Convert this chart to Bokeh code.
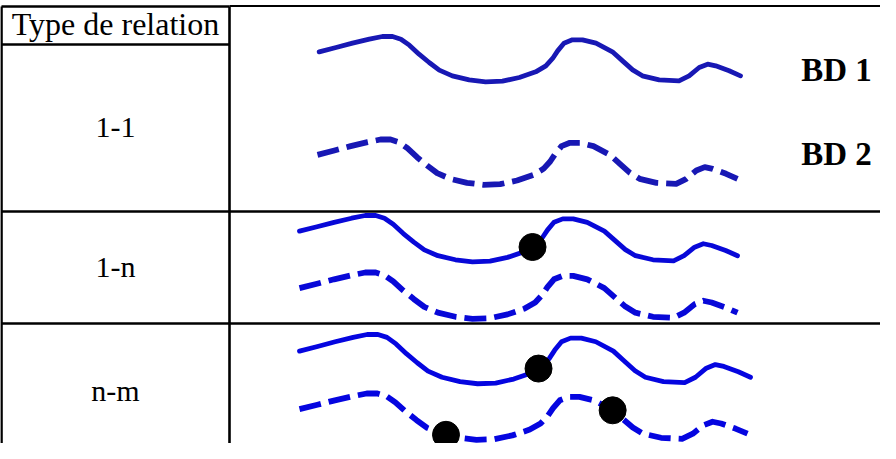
import numpy as np
from bokeh.plotting import figure
from bokeh.models import Range1d
from bokeh.embed import file_html
from bokeh.resources import INLINE
from bokeh.core.properties import value

# ---------------- data ----------------
header = "Type de relation"
relations = ["1-1", "1-n", "n-m"]
db_labels = ["BD 1", "BD 2"]

# shape of a river-like line: u along (0..1), v depth (0 = highest, 1 = lowest)
shape_u = [0.0, 0.040, 0.079, 0.119, 0.150, 0.174, 0.194, 0.214, 0.237, 0.261,
           0.285, 0.316, 0.356, 0.395, 0.435, 0.475, 0.514, 0.538, 0.554, 0.566,
           0.581, 0.601, 0.625, 0.657, 0.696, 0.720, 0.744, 0.767, 0.807, 0.854,
           0.878, 0.902, 0.922, 0.941, 0.973, 1.0]
shape_v = [0.333, 0.239, 0.145, 0.058, 0.0, 0.0, 0.058, 0.188, 0.384, 0.565,
           0.732, 0.855, 0.942, 0.985, 0.971, 0.891, 0.768, 0.638, 0.478, 0.312,
           0.145, 0.072, 0.072, 0.145, 0.333, 0.529, 0.725, 0.855, 0.942, 0.964,
           0.855, 0.674, 0.601, 0.638, 0.746, 0.855]

# junction points: relation row, curve (0 = BD 1 solid, 1 = BD 2 dashed), position along
junction_row = [1, 2, 2, 2]
junction_curve = [0, 0, 1, 1]
junction_u = [0.532, 0.530, 0.327, 0.699]

# ---------------- layout ----------------
W, H = 880, 443
X0, X1, Y0, Y1 = 8, 888, 8, 451
LEFT_X, DIV_X, RIGHT_X = 9, 237, 896
TOP_Y, HEAD_Y = 14, 52
ROW_LINES = [219, 331]
TEXT_DY = -12
header_baseline = 43.3
label_baselines = [146.7, 286, 410]
db_baselines = [89.3, 173.3]
# boxes for each curve: (x start, x end, y top, y bottom) per row / curve
curve_boxes = {
    (0, 0): (326.7, 748, 44, 90),
    (0, 1): (325, 745, 147, 193),
    (1, 0): (307, 745, 223, 270),
    (1, 1): (307, 745, 280, 327),
    (2, 0): (307, 758, 342, 392),
    (2, 1): (307, 755, 401, 448),
}
row_colors = ["#1818B4", "#0808D8", "#0505E0"]

p = figure(width=W, height=H, x_range=Range1d(X0, X1), y_range=Range1d(Y1, Y0),
           toolbar_location=None, output_backend="svg", min_border=0)
p.axis.visible = False
p.grid.visible = False
p.outline_line_color = None
p.background_fill_color = "white"
p.border_fill_color = "white"

# table lines
lw = 2.6
p.segment(x0=[LEFT_X, DIV_X], y0=[TOP_Y, TOP_Y], x1=[LEFT_X, DIV_X], y1=[470, 470],
          line_color="black", line_width=lw)
p.segment(x0=[LEFT_X, LEFT_X], y0=[TOP_Y, HEAD_Y], x1=[DIV_X, DIV_X], y1=[TOP_Y, HEAD_Y],
          line_color="black", line_width=lw)
p.segment(x0=[DIV_X], y0=[TOP_Y - 0.5], x1=[RIGHT_X], y1=[TOP_Y - 0.5],
          line_color="black", line_width=1.8)
p.segment(x0=[LEFT_X] * len(ROW_LINES), y0=ROW_LINES, x1=[RIGHT_X] * len(ROW_LINES),
          y1=ROW_LINES, line_color="black", line_width=lw)

su = np.array(shape_u)
sv = np.array(shape_v)


def place(row, curve, u, v):
    xa, xb, ya, yb = curve_boxes[(row, curve)]
    return xa + np.asarray(u) * (xb - xa), ya + np.asarray(v) * (yb - ya)


for r in range(len(relations)):
    xs, ys = place(r, 0, su, sv)
    p.line(xs, ys, line_color=row_colors[r], line_width=4.8,
           line_join="round", line_cap="round")
    xs, ys = place(r, 1, su, sv)
    p.line(xs, ys, line_color=row_colors[r], line_width=5.8,
           line_join="round", line_cap="butt", line_dash="22 8")

jx, jy = [], []
for r, c, u in zip(junction_row, junction_curve, junction_u):
    v = np.interp(u, su, sv)
    x, y = place(r, c, u, v)
    jx.append(float(x))
    jy.append(float(y))
p.scatter(jx, jy, size=27, fill_color="black", line_color="black")

serif = value("Liberation Serif")
cx = (LEFT_X + DIV_X) / 2
p.text(x=[cx], y=[header_baseline + TEXT_DY], text=[header], text_font=serif,
       text_font_size="32px", text_align="center", text_baseline="alphabetic",
       text_color="black")
p.text(x=[cx] * len(relations), y=[b + TEXT_DY for b in label_baselines], text=relations,
       text_font=serif, text_font_size="30px", text_align="center",
       text_baseline="alphabetic", text_color="black")
p.text(x=[844] * len(db_labels), y=[b + TEXT_DY for b in db_baselines], text=db_labels,
       text_font=serif, text_font_size="33px", text_font_style="bold", text_align="center",
       text_baseline="alphabetic", text_color="black")

open("out.html", "w").write(file_html(p, INLINE))
